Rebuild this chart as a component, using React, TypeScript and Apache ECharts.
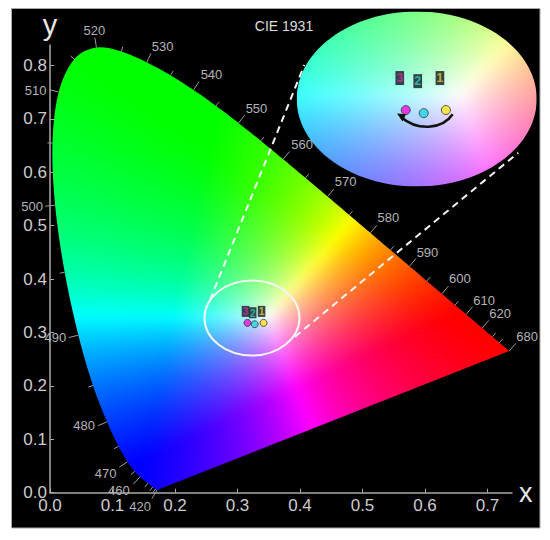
import React, { useEffect, useRef } from "react";
import * as echarts from "echarts";

// CIE 1931 spectral locus
const locusNm = [420, 430, 440, 450, 460, 465, 470, 475, 480, 485, 490, 495, 500, 505, 510, 515, 520, 525, 530, 535, 540, 545, 550, 555, 560, 565, 570, 575, 580, 585, 590, 595, 600, 605, 610, 620, 630, 640, 680];
const locusX = [0.1714, 0.1689, 0.1644, 0.1566, 0.144, 0.1355, 0.1241, 0.1096, 0.0913, 0.0687, 0.0454, 0.0235, 0.0082, 0.0039, 0.0139, 0.0389, 0.0743, 0.1142, 0.1547, 0.1929, 0.2296, 0.2658, 0.3016, 0.3373, 0.3731, 0.4087, 0.4441, 0.4788, 0.5125, 0.5448, 0.5752, 0.6029, 0.627, 0.6482, 0.6658, 0.6915, 0.7079, 0.719, 0.7347];
const locusY = [0.0051, 0.0069, 0.0109, 0.0177, 0.0297, 0.0399, 0.0578, 0.0868, 0.1327, 0.2007, 0.295, 0.4127, 0.5384, 0.6548, 0.7502, 0.812, 0.8338, 0.8262, 0.8059, 0.7816, 0.7543, 0.7243, 0.6923, 0.6589, 0.6245, 0.5896, 0.5547, 0.5202, 0.4866, 0.4544, 0.4242, 0.3965, 0.3725, 0.3514, 0.334, 0.3083, 0.292, 0.2809, 0.2653];
const labelledNm = [420, 460, 470, 480, 490, 500, 510, 520, 530, 540, 550, 560, 570, 580, 590, 600, 610, 620, 680];

// measured samples
const sampleNames = ["1", "2", "3"];
const sampleX = [0.3417, 0.3275, 0.316];
const sampleY = [0.318, 0.3155, 0.318];
const sampleColors = ["#ffe21a", "#1fd6e6", "#ee10d8"];
const labelColors = ["#e8c840", "#30d0d0", "#e020c0"];

const axisXTicks = [0, 0.1, 0.2, 0.3, 0.4, 0.5, 0.6, 0.7];
const axisYTicks = [0, 0.1, 0.2, 0.3, 0.4, 0.5, 0.6, 0.7, 0.8];

// layout
const labelOffset: Record<number, number[]> = {
  420: [-17, 17], 460: [-21, 14], 470: [-22, 12], 480: [-23, 4], 490: [-23, 2], 500: [-23, 1], 510: [-23, -2],
  520: [-2, -17], 530: [16, -16], 540: [18, -15], 550: [18, -15], 560: [19, -15], 570: [18, -15], 580: [18, -15],
  590: [18, -14], 600: [18, -15], 610: [18, -14], 620: [18, -15], 680: [18, -15],
};
const GRID = { left: 50, top: 45, width: 462, height: 447.7 };
const XMAX = 0.7392;
const YMAX = 0.8384;
const ZOOM_CX = 0.323, ZOOM_CY = 0.327, ZOOM_RX = 0.0768, ZOOM_RY = 0.0712;
const INSET = { left: 296.7, top: 11.5, width: 240, height: 175 };

// colour field over chromaticity
const P = { r: [0.64, 0.33], g: [0.25, 0.64], b: [0.15, 0.06] };
function bary(x: number, y: number) {
  const d = (P.g[1] - P.b[1]) * (P.r[0] - P.b[0]) + (P.b[0] - P.g[0]) * (P.r[1] - P.b[1]);
  const a = ((P.g[1] - P.b[1]) * (x - P.b[0]) + (P.b[0] - P.g[0]) * (y - P.b[1])) / d;
  const b = ((P.b[1] - P.r[1]) * (x - P.b[0]) + (P.r[0] - P.b[0]) * (y - P.b[1])) / d;
  return [a, b, 1 - a - b];
}
const W0 = bary(0.35, 0.33);
function fieldColor(x: number, y: number) {
  const w = bary(x, y).map((v, i) => Math.max(0, v / W0[i]));
  const m = Math.max(w[0], w[1], w[2]) || 1;
  return w.map((v) => Math.round((255 * v) / m));
}
function paintField(w: number, h: number, x0: number, x1: number, y0: number, y1: number, blur: number) {
  const c = document.createElement("canvas");
  c.width = w;
  c.height = h;
  const ctx = c.getContext("2d")!;
  const img = ctx.createImageData(w, h);
  for (let j = 0; j < h; j++) {
    for (let i = 0; i < w; i++) {
      const col = fieldColor(x0 + ((i + 0.5) / w) * (x1 - x0), y1 - ((j + 0.5) / h) * (y1 - y0));
      const k = (j * w + i) * 4;
      img.data[k] = col[0];
      img.data[k + 1] = col[1];
      img.data[k + 2] = col[2];
      img.data[k + 3] = 255;
    }
  }
  ctx.putImageData(img, 0, 0);
  const soft = document.createElement("canvas");
  soft.width = w;
  soft.height = h;
  const sctx = soft.getContext("2d")!;
  sctx.drawImage(c, 0, 0);
  sctx.filter = `blur(${blur}px)`;
  sctx.drawImage(c, 0, 0);
  return soft.toDataURL("image/png");
}
function smoothOutline(pts: number[][]) {
  const out: number[][] = [];
  for (let i = 0; i < pts.length - 1; i++) {
    const p0 = pts[Math.max(0, i - 1)], p1 = pts[i], p2 = pts[i + 1], p3 = pts[Math.min(pts.length - 1, i + 2)];
    for (let k = 0; k < 6; k++) {
      const t = k / 6, t2 = t * t, t3 = t2 * t;
      const f = (a: number, b: number, c: number, d: number) =>
        0.5 * (2 * b + (c - a) * t + (2 * a - 5 * b + 4 * c - d) * t2 + (3 * b - a - 3 * c + d) * t3);
      out.push([f(p0[0], p1[0], p2[0], p3[0]), f(p0[1], p1[1], p2[1], p3[1])]);
    }
  }
  out.push(pts[pts.length - 1]);
  return out;
}

const FONT = "Liberation Sans";

export default function App() {
  const ref = useRef<HTMLDivElement>(null);
  useEffect(() => {
    const chart = echarts.init(ref.current!, undefined, { renderer: "svg" });
    const mainField = paintField(462, 448, 0, XMAX, 0, YMAX, 5);
    const insetField = paintField(240, 175, ZOOM_CX - ZOOM_RX, ZOOM_CX + ZOOM_RX, ZOOM_CY - ZOOM_RY, ZOOM_CY + ZOOM_RY, 6);
    const scatterData = sampleNames.map((n, i) => ({
      name: n,
      value: [sampleX[i], sampleY[i]],
      itemStyle: { color: sampleColors[i], borderColor: "#333", borderWidth: 1 },
      label: { color: labelColors[i] },
    }));
    chart.setOption({
      animation: false,
      backgroundColor: "#ffffff",
      title: {
        text: "CIE 1931",
        left: 279,
        top: 14,
        textAlign: "center",
        textStyle: { color: "#dddddd", fontFamily: FONT, fontSize: 14, fontWeight: "normal" },
      },
      grid: [
        { ...GRID, containLabel: false },
        { ...INSET, containLabel: false },
      ],
      xAxis: [
        {
          type: "value", min: 0, max: XMAX, interval: 0.1, splitLine: { show: false },
          name: "x", nameLocation: "end", nameGap: 7,
          nameTextStyle: { color: "#e8e8e8", fontSize: 27, fontFamily: FONT, verticalAlign: "middle" },
          axisLine: { lineStyle: { color: "#aaaaaa", width: 1.5 } },
          axisTick: { inside: true, length: 4, lineStyle: { color: "#aaaaaa" }, customValues: axisXTicks },
          axisLabel: { customValues: axisXTicks, color: "#cccccc", fontSize: 17, fontFamily: FONT, margin: 4, formatter: (v: number) => v.toFixed(1) },
        },
        { type: "value", gridIndex: 1, show: false, min: ZOOM_CX - ZOOM_RX, max: ZOOM_CX + ZOOM_RX },
      ],
      yAxis: [
        {
          type: "value", min: 0, max: YMAX, interval: 0.1, splitLine: { show: false },
          name: "y", nameLocation: "end", nameGap: 6,
          nameTextStyle: { color: "#e8e8e8", fontSize: 29, fontFamily: FONT },
          axisLine: { lineStyle: { color: "#aaaaaa", width: 1.5 } },
          axisTick: { inside: true, length: 4, lineStyle: { color: "#aaaaaa" }, customValues: axisYTicks },
          axisLabel: { customValues: axisYTicks, color: "#cccccc", fontSize: 17, fontFamily: FONT, margin: 3, formatter: (v: number) => v.toFixed(1) },
        },
        { type: "value", gridIndex: 1, show: false, min: ZOOM_CY - ZOOM_RY, max: ZOOM_CY + ZOOM_RY },
      ],
      series: [
        {
          type: "custom", z: 2, clip: false, silent: true, coordinateSystem: "cartesian2d",
          data: [[0, 0]],
          renderItem: (_p: any, api: any) => {
            const tl = api.coord([0, YMAX]);
            const br = api.coord([XMAX, 0]);
            const pts = smoothOutline(locusX.map((x, i) => api.coord([x, locusY[i]])));
            return {
              type: "image",
              style: { image: mainField, x: tl[0], y: tl[1], width: br[0] - tl[0], height: br[1] - tl[1] },
              clipPath: { type: "polygon", shape: { points: pts } },
            };
          },
        },
        {
          type: "custom", z: 3, clip: false, silent: true, coordinateSystem: "cartesian2d",
          data: locusNm.map((nm, i) => [locusX[i], locusY[i], nm]),
          renderItem: (p: any, api: any) => {
            const i = p.dataIndex;
            const a = api.coord([locusX[Math.max(0, i - 1)], locusY[Math.max(0, i - 1)]]);
            const b = api.coord([locusX[Math.min(locusX.length - 1, i + 1)], locusY[Math.min(locusX.length - 1, i + 1)]]);
            const c = api.coord([locusX[i], locusY[i]]);
            const tx = b[0] - a[0], ty = b[1] - a[1];
            const l = Math.hypot(tx, ty) || 1;
            const nx = ty / l, ny = -tx / l;
            const nm = locusNm[i];
            const major = labelledNm.includes(nm);
            const len = major ? 10 : 5;
            const children: any[] = [
              { type: "line", shape: { x1: c[0], y1: c[1], x2: c[0] + nx * len, y2: c[1] + ny * len }, style: { stroke: "#999999", lineWidth: 1 } },
            ];
            if (major) {
              const off = labelOffset[nm];
              children.push({
                type: "text",
                style: { text: String(nm), x: c[0] + off[0], y: c[1] + off[1], fill: "#b4b4b4", font: `13px "${FONT}"`, align: "center", verticalAlign: "middle" },
              });
            }
            return { type: "group", children };
          },
        },
        {
          type: "scatter", z: 11, symbolSize: 7, silent: true, data: scatterData,
          label: {
            show: true, position: "top", distance: 2, offset: [-2, 0], formatter: "{b}", fontSize: 10, fontFamily: FONT, fontWeight: "bold",
            backgroundColor: "#101818", padding: [1, 1, 0, 1],
          },
        },
        {
          type: "custom", z: 20, clip: false, silent: true, coordinateSystem: "cartesian2d", xAxisIndex: 1, yAxisIndex: 1,
          data: [[ZOOM_CX, ZOOM_CY]],
          renderItem: (_p: any, api: any) => {
            const tl = api.coord([ZOOM_CX - ZOOM_RX, ZOOM_CY + ZOOM_RY]);
            const br = api.coord([ZOOM_CX + ZOOM_RX, ZOOM_CY - ZOOM_RY]);
            const w = br[0] - tl[0], h = br[1] - tl[1];
            return {
              type: "image",
              style: { image: insetField, x: tl[0], y: tl[1], width: w, height: h },
              clipPath: { type: "ellipse", shape: { cx: tl[0] + w / 2, cy: tl[1] + h / 2, rx: w / 2, ry: h / 2 } },
            };
          },
        },
        {
          type: "scatter", z: 21, symbolSize: 9, silent: true, xAxisIndex: 1, yAxisIndex: 1, data: scatterData,
          label: {
            show: true, position: "top", distance: 20, offset: [-6, 0], formatter: "{b}", fontSize: 12, fontFamily: FONT, fontWeight: "bold",
            backgroundColor: "#101818", padding: [1, 1, 1, 1],
          },
        },
      ],
      graphic: [
        { type: "rect", z: -1, shape: { x: 11.5, y: 8.5, width: 528.5, height: 519.5 }, style: { fill: "#000000", stroke: "#a8a8a8", lineWidth: 1 }, silent: true },
        { type: "ellipse", z: 10, shape: { cx: 252, cy: 318, rx: 47.5, ry: 37.5 }, style: { fill: "none", stroke: "#f4f4f4", lineWidth: 2 }, silent: true },
        { type: "line", z: 10, shape: { x1: 210, y1: 300, x2: 304.3, y2: 65 }, style: { stroke: "#f4f4f4", lineWidth: 2, lineDash: [7, 5] }, silent: true },
        { type: "line", z: 10, shape: { x1: 295, y1: 336.7, x2: 518.3, y2: 152.7 }, style: { stroke: "#f4f4f4", lineWidth: 2, lineDash: [7, 5] }, silent: true },
        { type: "bezierCurve", z: 25, shape: { x1: 452.7, y1: 114.3, cpx1: 442, cpy1: 130, cpx2: 417, cpy2: 131, x2: 401, y2: 117 }, style: { fill: "none", stroke: "#111111", lineWidth: 2.5 }, silent: true },
        { type: "polygon", z: 25, shape: { points: [[397, 113.5], [406, 114.2], [402.5, 121.5]] }, style: { fill: "#111111" }, silent: true },
      ],
    });
    return () => chart.dispose();
  }, []);
  return <div ref={ref} style={{ position: "absolute", left: 0, top: 0, width: 550, height: 540 }} />;
}
